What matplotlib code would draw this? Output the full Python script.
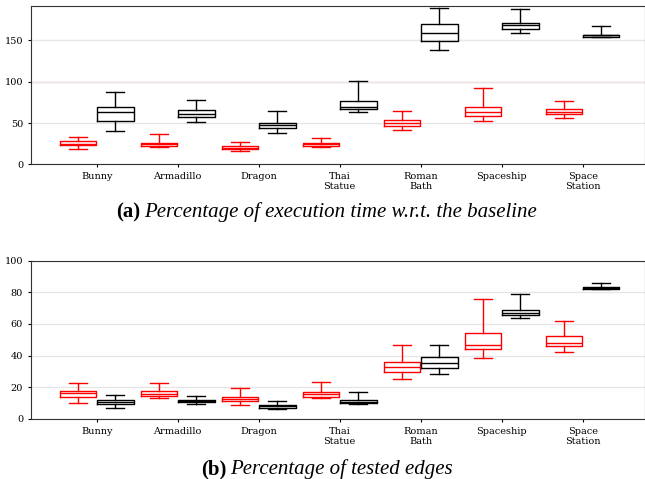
import numpy as np
import matplotlib.pyplot as plt

plt.rcParams['font.family'] = 'DejaVu Serif'

labels = ['Bunny', 'Armadillo', 'Dragon', 'Thai\nStatue', 'Roman\nBath', 'Spaceship', 'Space\nStation']

# (a) execution time, % of baseline: whisker low, q1, median, q3, whisker high
time_red_lo = [18.5, 20.9, 16.1, 21.0, 41.8, 52.7, 56.0]
time_red_q1 = [23.0, 22.5, 18.5, 22.1, 45.9, 58.8, 60.5]
time_red_med = [24.9, 24.2, 20.1, 24.2, 49.9, 62.9, 63.6]
time_red_q3 = [27.8, 26.1, 21.8, 26.1, 53.2, 68.9, 66.9]
time_red_hi = [33.4, 36.6, 27.3, 32.2, 64.4, 92.6, 76.2]

time_blk_lo = [40.6, 51.5, 37.5, 62.9, 139.0, 159.1, 153.6]
time_blk_q1 = [52.7, 57.2, 43.9, 66.5, 149.1, 164.0, 154.3]
time_blk_med = [62.9, 61.2, 47.2, 69.7, 158.4, 168.1, 156.0]
time_blk_q3 = [69.7, 66.0, 49.9, 76.2, 169.3, 171.2, 156.7]
time_blk_hi = [87.8, 77.4, 64.1, 101.0, 189.8, 187.8, 166.9]

# (b) tested edges, %
edge_red_lo = [10.1, 13.0, 9.0, 13.0, 25.3, 38.5, 42.5]
edge_red_q1 = [13.9, 14.5, 11.2, 14.1, 29.5, 44.2, 46.1]
edge_red_med = [16.4, 16.0, 12.6, 15.6, 33.0, 46.9, 48.2]
edge_red_q3 = [17.9, 17.5, 13.7, 16.8, 36.2, 54.1, 52.4]
edge_red_hi = [22.9, 22.9, 19.4, 23.6, 46.9, 75.6, 61.7]

edge_blk_lo = [6.9, 9.3, 6.1, 9.5, 28.2, 63.6, 81.9]
edge_blk_q1 = [9.3, 10.5, 6.9, 9.9, 32.2, 65.5, 82.1]
edge_blk_med = [10.9, 11.4, 8.0, 10.7, 35.6, 67.2, 82.8]
edge_blk_q3 = [12.2, 12.2, 8.8, 11.8, 39.4, 68.7, 83.2]
edge_blk_hi = [15.2, 14.5, 11.4, 17.1, 46.9, 79.2, 86.1]


def stats(lo, q1, med, q3, hi):
    return [dict(whislo=a, q1=b, med=c, q3=d, whishi=e, fliers=[])
            for a, b, c, d, e in zip(lo, q1, med, q3, hi)]


def draw(ax, red, blk):
    pos = np.arange(1, len(labels) + 1)
    for st, off, col in [(red, -0.23, 'red'), (blk, 0.23, 'black')]:
        ax.bxp(st, positions=pos + off, widths=0.45, showfliers=False,
               boxprops=dict(color=col, linewidth=1),
               medianprops=dict(color=col, linewidth=1),
               whiskerprops=dict(color=col, linewidth=1),
               capprops=dict(color=col, linewidth=1))
    ax.set_xticks(pos)
    ax.set_xticklabels(labels)
    ax.set_xlim(0.185, 7.77)
    ax.tick_params(labelsize=7, length=2)
    ax.yaxis.grid(True, color='#e6e6e6', linewidth=1)
    ax.set_axisbelow(True)
    for s in ax.spines.values():
        s.set_color('#333333')


def caption(fig, y, tag, body, xleft):
    # bold tag followed by italic text, Times-like serif
    t = fig.text(xleft, y, tag, fontsize=15, fontweight='bold',
                 family='Liberation Serif', va='baseline', ha='left')
    fig.canvas.draw()
    bb = t.get_window_extent()
    fig.text((bb.x1 + 4) / fig.bbox.width, y, body, fontsize=15, style='italic',
             family='Liberation Serif', va='baseline', ha='left')


fig = plt.figure(figsize=(6.45, 4.79), dpi=100)
ax1 = fig.add_axes([0.0476, 0.657, 0.9524, 0.331])
ax2 = fig.add_axes([0.0476, 0.1253, 0.9524, 0.3305])

draw(ax1, stats(time_red_lo, time_red_q1, time_red_med, time_red_q3, time_red_hi),
     stats(time_blk_lo, time_blk_q1, time_blk_med, time_blk_q3, time_blk_hi))
ax1.set_ylim(0, 192)
ax1.set_yticks([0, 50, 100, 150])
ax1.axhline(100, color='red', alpha=0.2, linewidth=1, zorder=0)

draw(ax2, stats(edge_red_lo, edge_red_q1, edge_red_med, edge_red_q3, edge_red_hi),
     stats(edge_blk_lo, edge_blk_q1, edge_blk_med, edge_blk_q3, edge_blk_hi))
ax2.set_ylim(0, 100)
ax2.set_yticks([0, 20, 40, 60, 80, 100])

caption(fig, 1 - 217 / 479, '(a)', 'Percentage of execution time w.r.t. the baseline', 116 / 645)
caption(fig, 1 - 474 / 479, '(b)', 'Percentage of tested edges', 201 / 645)

fig.savefig('out.png', dpi=100)
plt.close()
